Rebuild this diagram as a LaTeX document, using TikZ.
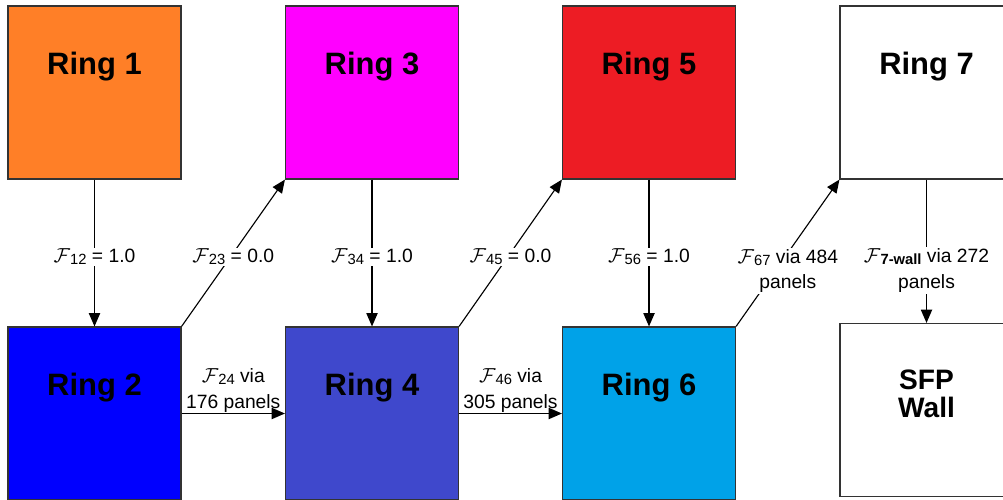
\documentclass[tikz,border=0pt]{standalone}
\usepackage{fontspec}
\setmainfont{Liberation Sans}
\usetikzlibrary{arrows.meta}
\definecolor{ringorange}{RGB}{255,127,39}
\definecolor{ringmagenta}{RGB}{255,0,255}
\definecolor{ringred}{RGB}{237,28,36}
\definecolor{ringblue}{RGB}{0,0,255}
\definecolor{ringindigo}{RGB}{63,72,204}
\definecolor{ringcyan}{RGB}{0,162,232}
\newcommand{\Fsub}[1]{$\mathcal{F}$\raisebox{-0.2ex}{\fontsize{10.5}{12}\selectfont #1}}
\begin{document}
\begin{tikzpicture}[x=0.025cm, y=-0.025cm,
  ringbox/.style={draw=black!80, line width=0.8pt, minimum width=4.325cm, minimum height=4.325cm, inner sep=0pt},
  ringname/.style={anchor=base, yshift=-1.73cm, font=\fontsize{22}{24}\selectfont\bfseries},
  flow/.style={-{Triangle[length=0.33cm, width=0.28cm]}, line width=0.8pt},
  flowlbl/.style={fill=white, inner sep=1pt, align=center, font=\fontsize{13.7}{18.4}\selectfont}]
  \useasboundingbox (0,0) rectangle (1003,499);

  % 上段のリング
  \node[ringbox, fill=ringorange, label={[ringname]north:Ring 1}] (R1) at (94.5,92.5) {};
  \node[ringbox, fill=ringmagenta, label={[ringname]north:Ring 3}] (R3) at (372,92.5) {};
  \node[ringbox, fill=ringred, label={[ringname]north:Ring 5}] (R5) at (649,92.5) {};
  \node[ringbox, fill=white, label={[ringname]north:Ring 7}] (R7) at (926.5,92.5) {};

  % 下段のリングと壁
  \node[ringbox, fill=ringblue, label={[ringname]north:Ring 2}] (R2) at (94.5,413.5) {};
  \node[ringbox, fill=ringindigo, label={[ringname]north:Ring 4}] (R4) at (372,413.5) {};
  \node[ringbox, fill=ringcyan, label={[ringname]north:Ring 6}] (R6) at (649,413.5) {};
  \node[ringbox, fill=white, label={[ringname, yshift=-0.63cm, font=\fontsize{20}{20}\selectfont\bfseries, align=center]north:SFP\\Wall}] (SFP) at (926.5,410) {};

  % 矢印
  \draw[flow] (R1) -- (R2) node[flowlbl, midway, yshift=-0.1cm] {\Fsub{12} = 1.0};
  \draw[flow] (R2.north east) -- (R3.south west) node[flowlbl, midway, yshift=-0.1cm] {\Fsub{23} = 0.0};
  \draw[flow] (R3) -- (R4) node[flowlbl, midway, yshift=-0.1cm] {\Fsub{34} = 1.0};
  \draw[flow] (R4.north east) -- (R5.south west) node[flowlbl, midway, yshift=-0.1cm] {\Fsub{45} = 0.0};
  \draw[flow] (R5) -- (R6) node[flowlbl, midway, yshift=-0.1cm] {\Fsub{56} = 1.0};
  \draw[flow] (R6.north east) -- (R7.south west) node[flowlbl, midway, yshift=-0.45cm] {\Fsub{67} via 484\\panels};
  \draw[flow] (R7) -- (SFP) node[flowlbl, midway, yshift=-0.48cm] {\Fsub{\textbf{7-wall}} via 272\\panels};

  \draw[flow] (R2.east) -- (R4.west) node[flowlbl, midway, above, fill=none, inner sep=0.5pt] {\Fsub{24} via\\176 panels};
  \draw[flow] (R4.east) -- (R6.west) node[flowlbl, midway, above, fill=none, inner sep=0.5pt] {\Fsub{46} via\\305 panels};
\end{tikzpicture}
\end{document}
